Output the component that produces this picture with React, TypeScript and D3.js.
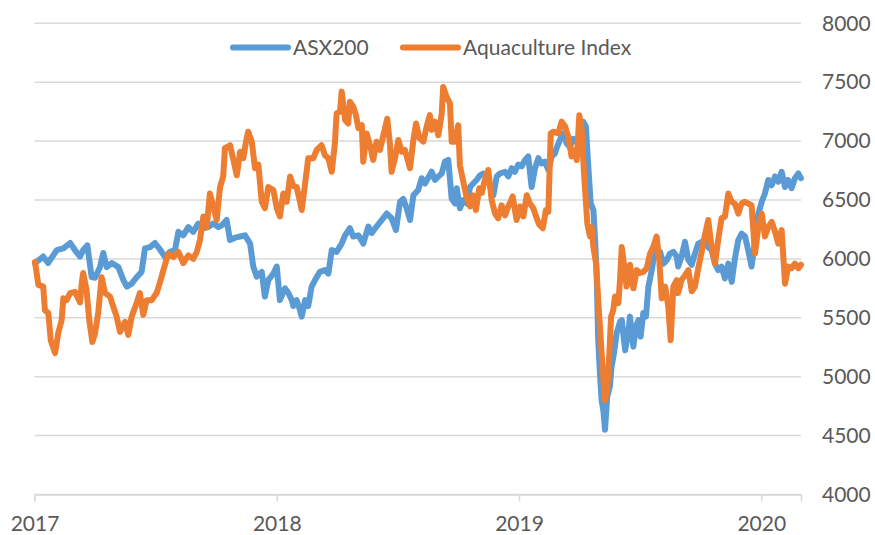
import React, { useEffect, useRef } from "react";
import * as d3 from "d3";

// years are stored as offsets from START_YEAR
const START_YEAR = 2017;
const END_OFFSET = 3.164;

const asxT = [0.002, 0.036, 0.056, 0.092, 0.119, 0.147, 0.167, 0.188, 0.201, 0.218, 0.236, 0.25, 0.27, 0.284, 0.298, 0.319, 0.346, 0.367, 0.381, 0.401, 0.422, 0.442, 0.456, 0.477, 0.497, 0.518, 0.539, 0.559, 0.58, 0.594, 0.614, 0.635, 0.655, 0.676, 0.697, 0.717, 0.738, 0.759, 0.773, 0.793, 0.807, 0.828, 0.849, 0.869, 0.89, 0.903, 0.917, 0.938, 0.951, 0.965, 0.986, 1.0, 1.013, 1.034, 1.048, 1.062, 1.068, 1.082, 1.096, 1.103, 1.117, 1.13, 1.144, 1.158, 1.178, 1.199, 1.213, 1.227, 1.247, 1.268, 1.282, 1.302, 1.316, 1.337, 1.357, 1.378, 1.392, 1.412, 1.433, 1.454, 1.474, 1.492, 1.509, 1.522, 1.536, 1.55, 1.564, 1.584, 1.598, 1.612, 1.639, 1.653, 1.667, 1.681, 1.694, 1.708, 1.722, 1.736, 1.743, 1.756, 1.77, 1.784, 1.798, 1.811, 1.825, 1.839, 1.852, 1.866, 1.88, 1.894, 1.908, 1.921, 1.942, 1.956, 1.97, 1.983, 1.997, 2.011, 2.025, 2.038, 2.052, 2.066, 2.08, 2.093, 2.107, 2.121, 2.135, 2.148, 2.155, 2.169, 2.183, 2.197, 2.21, 2.224, 2.238, 2.252, 2.265, 2.276, 2.286, 2.296, 2.307, 2.314, 2.32, 2.327, 2.334, 2.341, 2.348, 2.355, 2.364, 2.375, 2.382, 2.392, 2.403, 2.417, 2.424, 2.438, 2.451, 2.458, 2.472, 2.483, 2.493, 2.502, 2.513, 2.524, 2.534, 2.548, 2.557, 2.568, 2.582, 2.596, 2.61, 2.623, 2.637, 2.651, 2.657, 2.671, 2.685, 2.699, 2.713, 2.726, 2.74, 2.754, 2.767, 2.781, 2.795, 2.809, 2.822, 2.836, 2.85, 2.864, 2.878, 2.891, 2.905, 2.919, 2.933, 2.946, 2.96, 2.974, 2.988, 3.002, 3.015, 3.029, 3.043, 3.057, 3.07, 3.084, 3.098, 3.111, 3.125, 3.139, 3.153, 3.164];
const asxV = [5965, 6020, 5965, 6075, 6090, 6135, 6075, 6020, 6075, 6115, 5845, 5840, 5930, 6050, 5930, 5965, 5930, 5820, 5765, 5790, 5845, 5890, 6090, 6100, 6135, 6080, 6015, 6060, 6075, 6230, 6200, 6270, 6230, 6300, 6260, 6270, 6300, 6270, 6285, 6330, 6160, 6180, 6190, 6200, 6130, 5935, 5850, 5890, 5680, 5820, 5875, 5935, 5650, 5750, 5710, 5650, 5600, 5650, 5565, 5510, 5650, 5600, 5765, 5820, 5890, 5905, 5875, 6075, 6060, 6130, 6200, 6260, 6190, 6200, 6130, 6275, 6220, 6275, 6330, 6385, 6345, 6245, 6485, 6510, 6430, 6330, 6540, 6585, 6685, 6640, 6740, 6670, 6700, 6725, 6825, 6840, 6510, 6470, 6600, 6430, 6500, 6470, 6610, 6640, 6670, 6710, 6725, 6700, 6625, 6540, 6700, 6725, 6740, 6700, 6770, 6740, 6800, 6785, 6840, 6870, 6610, 6770, 6855, 6810, 6825, 6755, 6870, 6895, 6940, 7010, 7065, 6980, 6950, 7020, 6995, 7040, 7165, 7125, 6785, 6470, 6415, 6160, 5905, 5310, 5030, 4800, 4715, 4550, 4830, 4915, 5085, 5200, 5370, 5465, 5480, 5225, 5370, 5510, 5255, 5425, 5480, 5340, 5540, 5510, 5765, 5905, 6020, 6075, 6060, 5960, 5990, 6045, 6060, 6020, 5935, 6020, 6145, 5990, 5950, 6045, 6130, 6145, 6160, 6100, 6075, 5960, 5905, 5935, 5835, 5960, 5805, 6000, 6160, 6215, 6190, 6075, 5935, 6145, 6385, 6485, 6555, 6670, 6625, 6700, 6655, 6740, 6610, 6670, 6600, 6685, 6725, 6685];

const aquaT = [0.002, 0.016, 0.036, 0.043, 0.057, 0.067, 0.085, 0.098, 0.112, 0.119, 0.133, 0.147, 0.167, 0.188, 0.195, 0.201, 0.215, 0.226, 0.239, 0.25, 0.263, 0.277, 0.291, 0.312, 0.325, 0.339, 0.353, 0.374, 0.387, 0.401, 0.419, 0.435, 0.449, 0.463, 0.484, 0.504, 0.518, 0.532, 0.552, 0.573, 0.594, 0.614, 0.635, 0.655, 0.67, 0.683, 0.697, 0.711, 0.724, 0.738, 0.752, 0.766, 0.779, 0.786, 0.807, 0.821, 0.835, 0.849, 0.862, 0.873, 0.882, 0.897, 0.91, 0.924, 0.938, 0.951, 0.965, 0.986, 1.0, 1.013, 1.027, 1.041, 1.055, 1.068, 1.082, 1.096, 1.103, 1.117, 1.13, 1.151, 1.165, 1.185, 1.199, 1.213, 1.227, 1.24, 1.247, 1.261, 1.268, 1.282, 1.295, 1.302, 1.316, 1.327, 1.337, 1.351, 1.357, 1.371, 1.385, 1.398, 1.412, 1.426, 1.44, 1.456, 1.467, 1.474, 1.488, 1.502, 1.516, 1.529, 1.55, 1.564, 1.575, 1.588, 1.605, 1.619, 1.632, 1.639, 1.653, 1.667, 1.681, 1.687, 1.701, 1.715, 1.722, 1.736, 1.749, 1.756, 1.77, 1.784, 1.798, 1.811, 1.822, 1.836, 1.846, 1.859, 1.873, 1.887, 1.901, 1.914, 1.928, 1.942, 1.956, 1.974, 1.99, 2.004, 2.018, 2.032, 2.045, 2.059, 2.073, 2.084, 2.098, 2.111, 2.121, 2.131, 2.141, 2.162, 2.176, 2.19, 2.203, 2.217, 2.231, 2.238, 2.249, 2.259, 2.265, 2.272, 2.282, 2.293, 2.3, 2.307, 2.318, 2.327, 2.334, 2.341, 2.348, 2.355, 2.364, 2.373, 2.38, 2.389, 2.396, 2.41, 2.417, 2.424, 2.433, 2.444, 2.458, 2.472, 2.486, 2.499, 2.513, 2.527, 2.541, 2.554, 2.568, 2.579, 2.589, 2.603, 2.616, 2.626, 2.637, 2.651, 2.657, 2.671, 2.685, 2.699, 2.713, 2.726, 2.74, 2.754, 2.767, 2.781, 2.795, 2.809, 2.822, 2.836, 2.85, 2.864, 2.878, 2.891, 2.905, 2.919, 2.933, 2.946, 2.96, 2.974, 2.988, 3.002, 3.015, 3.029, 3.043, 3.057, 3.07, 3.084, 3.098, 3.111, 3.125, 3.139, 3.153, 3.164];
const aquaV = [5975, 5780, 5765, 5565, 5540, 5310, 5200, 5370, 5480, 5665, 5650, 5710, 5720, 5630, 5795, 5880, 5735, 5480, 5295, 5370, 5540, 5845, 5710, 5680, 5595, 5510, 5380, 5465, 5355, 5510, 5610, 5710, 5525, 5650, 5650, 5710, 5800, 5905, 6045, 6015, 6060, 5965, 6030, 6000, 6060, 6160, 6360, 6270, 6555, 6445, 6330, 6610, 6700, 6940, 6965, 6840, 6710, 6910, 6855, 6995, 7080, 6995, 6770, 6800, 6485, 6430, 6610, 6585, 6430, 6360, 6555, 6485, 6700, 6620, 6610, 6485, 6415, 6640, 6855, 6855, 6925, 6965, 6880, 6855, 6740, 6980, 7235, 7250, 7420, 7180, 7150, 7335, 7290, 7220, 7110, 7135, 6825, 7065, 6965, 6840, 6995, 6925, 7050, 7190, 6980, 6740, 6855, 7010, 6910, 6925, 6770, 7010, 7150, 7030, 6995, 7125, 7220, 7095, 7165, 7050, 7235, 7460, 7375, 7320, 6995, 6995, 7135, 6795, 6655, 6515, 6445, 6540, 6415, 6600, 6560, 6670, 6755, 6500, 6385, 6345, 6455, 6370, 6445, 6530, 6330, 6445, 6360, 6540, 6470, 6430, 6345, 6290, 6260, 6415, 6400, 7065, 7080, 7065, 7165, 7125, 7040, 6870, 6925, 6840, 7220, 7095, 6840, 6610, 6300, 6190, 6270, 6100, 5960, 5650, 5425, 5200, 4975, 4800, 4885, 5200, 5510, 5565, 5680, 5625, 5820, 6100, 5960, 5765, 5950, 5750, 5905, 5880, 5890, 5920, 6045, 6100, 6190, 5990, 5665, 5765, 5595, 5310, 5765, 5820, 5710, 5820, 5860, 5905, 5725, 5765, 5920, 6060, 6200, 6330, 6100, 5960, 6160, 6345, 6360, 6555, 6485, 6470, 6385, 6470, 6485, 6470, 6455, 6045, 6270, 6385, 6190, 6270, 6315, 6230, 6130, 6245, 5790, 5935, 5920, 5960, 5920, 5950];

const xTicks = [2017, 2018, 2019, 2020];
const yTicks = [4000, 4500, 5000, 5500, 6000, 6500, 7000, 7500, 8000];
const seriesNames = ["ASX200", "Aquaculture Index"];
const colors = ["#5B9BD5", "#ED7D31"];

const FONT = "Lato, 'Open Sans', sans-serif";

export default function App() {
  const ref = useRef<SVGSVGElement>(null);

  useEffect(() => {
    document.body.style.margin = "0";
    const svg = d3.select(ref.current);
    svg.selectAll("*").remove();

    const W = 875, H = 535;
    const margin = { top: 23.3, right: 74, bottom: 40.5, left: 34.5 };

    const x = d3.scaleLinear()
      .domain([START_YEAR, START_YEAR + END_OFFSET])
      .range([margin.left, W - margin.right]);
    const y = d3.scaleLinear()
      .domain([4000, 8000])
      .range([H - margin.bottom, margin.top]);

    // gridlines
    svg.append("g")
      .selectAll("line")
      .data(yTicks)
      .join("line")
      .attr("x1", margin.left)
      .attr("x2", W - margin.right)
      .attr("y1", d => y(d))
      .attr("y2", d => y(d))
      .attr("stroke", "#d9d9d9")
      .attr("stroke-width", 1.5);

    // right value axis
    const yAxis = svg.append("g")
      .attr("transform", `translate(${W - margin.right}, 0)`)
      .call(d3.axisRight(y).tickValues(yTicks).tickFormat(d3.format("d")).tickSize(0).tickPadding(21));
    yAxis.select(".domain").remove();
    yAxis.selectAll("text")
      .attr("font-family", FONT)
      .attr("font-size", 21)
      .attr("fill", "#595959");

    // bottom year axis
    const xAxis = svg.append("g")
      .attr("transform", `translate(0, ${H - margin.bottom})`)
      .call(d3.axisBottom(x).tickValues(xTicks).tickFormat(d => String(d)).tickSize(7).tickPadding(15));
    xAxis.select(".domain").attr("stroke", "#d9d9d9").attr("stroke-width", 1.5);
    xAxis.selectAll("line").attr("stroke", "#d9d9d9").attr("stroke-width", 1.5);
    xAxis.selectAll("text")
      .attr("font-family", FONT)
      .attr("font-size", 21)
      .attr("fill", "#595959");

    const line = d3.line<[number, number]>()
      .x(d => x(START_YEAR + d[0]))
      .y(d => y(d[1]));

    const series = [
      asxT.map((t, i) => [t, asxV[i]] as [number, number]),
      aquaT.map((t, i) => [t, aquaV[i]] as [number, number]),
    ];

    svg.append("g")
      .selectAll("path")
      .data(series)
      .join("path")
      .attr("d", d => line(d))
      .attr("fill", "none")
      .attr("stroke", (d, i) => colors[i])
      .attr("stroke-width", 6)
      .attr("stroke-linejoin", "round")
      .attr("stroke-linecap", "round");

    // legend
    const legendX = [233, 403];
    const legend = svg.append("g");
    seriesNames.forEach((name, i) => {
      const g = legend.append("g").attr("transform", `translate(${legendX[i]}, 47.5)`);
      g.append("line")
        .attr("x1", 0).attr("x2", 55)
        .attr("stroke", colors[i])
        .attr("stroke-width", 6)
        .attr("stroke-linecap", "round");
      g.append("text")
        .attr("x", 60)
        .attr("y", 7.5)
        .attr("font-family", FONT)
        .attr("font-size", 21)
        .attr("fill", "#595959")
        .text(name);
    });
  }, []);

  return <svg ref={ref} width={875} height={535} style={{ display: "block" }} />;
}
